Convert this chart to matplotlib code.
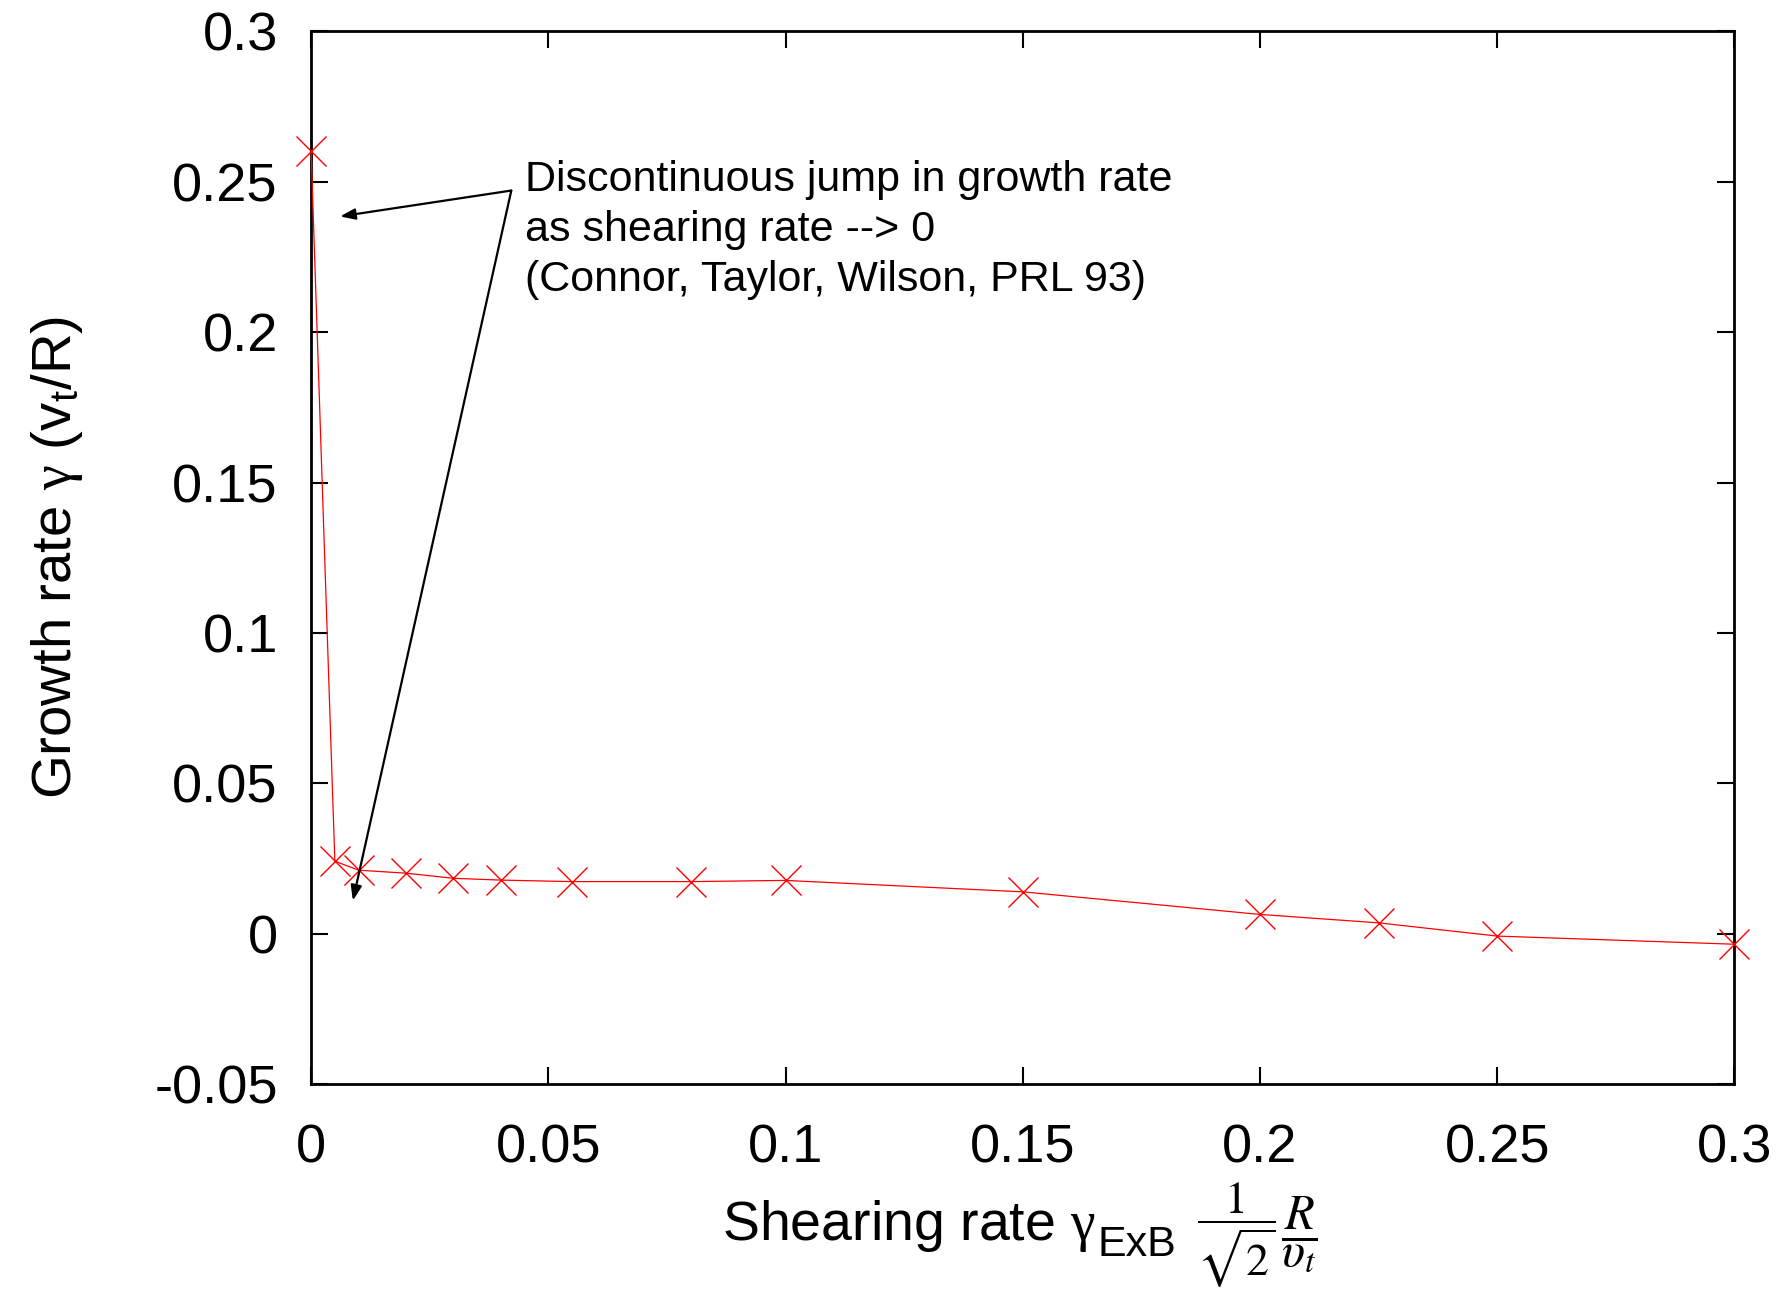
import matplotlib
matplotlib.use("Agg")
import matplotlib.pyplot as plt

# data
shear = [0.0, 0.005, 0.01, 0.02, 0.03, 0.04, 0.055, 0.08, 0.1, 0.15, 0.2, 0.225, 0.25, 0.3]
growth = [0.260, 0.0242, 0.0212, 0.0202, 0.0185, 0.0179, 0.0174, 0.0174, 0.0178,
          0.0140, 0.0065, 0.0037, -0.0007, -0.0034]

xticks = [0, 0.05, 0.1, 0.15, 0.2, 0.25, 0.3]
xlabels = ["0", "0.05", "0.1", "0.15", "0.2", "0.25", "0.3"]
yticks = [-0.05, 0, 0.05, 0.1, 0.15, 0.2, 0.25, 0.3]
ylabels = ["-0.05", "0", "0.05", "0.1", "0.15", "0.2", "0.25", "0.3"]

note = "Discontinuous jump in growth rate\nas shearing rate --> 0\n(Connor, Taylor, Wilson, PRL 93)"

plt.rcParams['font.family'] = ['Liberation Sans', 'DejaVu Sans']
plt.rcParams['mathtext.fontset'] = 'custom'
plt.rcParams['mathtext.rm'] = 'Liberation Serif'
plt.rcParams['mathtext.sf'] = 'Liberation Sans'
plt.rcParams['mathtext.it'] = 'Liberation Serif:italic'
plt.rcParams['mathtext.bf'] = 'Liberation Sans:bold'

fig = plt.figure(figsize=(17.88, 12.98), dpi=100)
ax = fig.add_axes([0.174, 0.1645, 0.796, 0.8116])

ax.plot(shear, growth, color='red', linewidth=0.9, marker='x', markersize=22,
        markeredgewidth=1.0, clip_on=False, zorder=3)

ax.set_xlim(0, 0.3)
ax.set_ylim(-0.05, 0.3)
ax.set_xticks(xticks)
ax.set_xticklabels(xlabels)
ax.set_yticks(yticks)
ax.set_yticklabels(ylabels)
ax.tick_params(direction='in', length=12, width=1.5, labelsize=39,
               top=True, right=True, pad=28)
ax.tick_params(axis='y', pad=24)
for s in ax.spines.values():
    s.set_linewidth(2)

ax.set_ylabel(r"Growth rate $\mathrm{\gamma}$ (v$_\mathsf{t}$/R)", fontsize=40.5, labelpad=50)

# x label: sans text, sans subscript, serif fractions
t1 = fig.text(0.4036, 0.0447, r"Shearing rate $\mathrm{\gamma}$", fontsize=40,
              ha='left', va='baseline')
fig.canvas.draw()
bb = t1.get_window_extent().transformed(fig.transFigure.inverted())
fig.text(bb.x1 + 0.001, 0.0447 - 0.012, "ExB", fontsize=31, ha='left', va='baseline')
fig.text(0.6695, 0.0485, r"$\dfrac{1}{\sqrt{2}}$", fontsize=33,
         ha='left', va='center', math_fontfamily='stix')
fig.text(0.7165, 0.0485, r"$\dfrac{R}{\upsilon_t}$", fontsize=35,
         ha='left', va='center', math_fontfamily='stix')

ax.text(0.0451, 0.2572, note, fontsize=31, ha='left', va='top', linespacing=1.33)
arrow = dict(arrowstyle='-|>,head_length=0.9,head_width=0.33', color='black', lw=1.6,
             shrinkA=0, shrinkB=0)
ax.annotate("", xy=(0.0061, 0.2384), xytext=(0.0422, 0.247), arrowprops=arrow)
ax.annotate("", xy=(0.0088, 0.0111), xytext=(0.0422, 0.247), arrowprops=arrow)

fig.savefig("out.png", dpi=100)
